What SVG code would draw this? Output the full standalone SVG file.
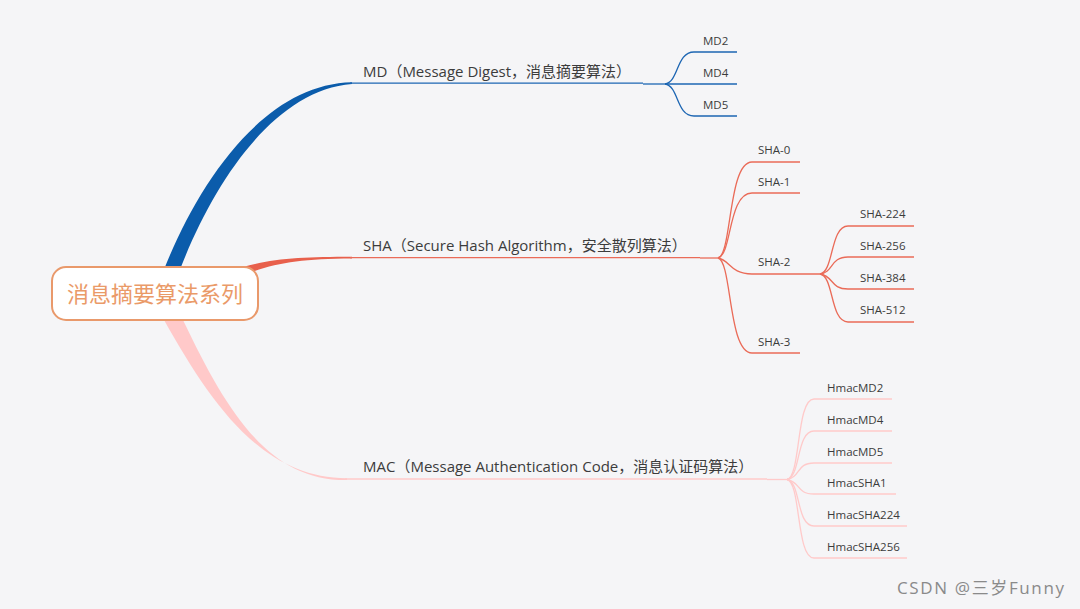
<svg xmlns="http://www.w3.org/2000/svg" width="1080" height="609" viewBox="0 0 1080 609">
<style>
text{font-family:"Open Sans","Noto Sans CJK SC",sans-serif;fill:#3c3c3c}
.main{font-size:15px}
.leaf{font-size:11.5px}
.md{stroke:#1d66b3;fill:none;stroke-width:1.3}
.sha{stroke:#ea6b58;fill:none;stroke-width:1.3}
.mac{stroke:#ffcaca;fill:none;stroke-width:1.3}
</style>
<rect width="1080" height="609" fill="#f5f5f7"/>
<g id="connectors">
  <path d="M165,267 C200,180 265,84 352,82.3 L352,84 C275,90 215,180 181,267 Z" fill="#0b5cab"/>
  <path d="M243,267 C275,258 305,257 352,256.8 L352,258.6 C305,259 280,262 252,272 Z" fill="#e8604c"/>
  <path d="M164,320 C212,405 262,478 347,478.2 L347,480 C268,481 226,410 183,320 Z" fill="#ffc9c9"/>
  <path class="md" d="M350,83.2 H643" stroke-width="1.8"/>
  <path class="md" d="M643,84 H665"/>
  <path class="md" d="M665,84 C679,82 676,52 694,52 H737"/>
  <path class="md" d="M665,84 H737"/>
  <path class="md" d="M665,84 C679,86 676,116 694,116 H737"/>
  <path class="sha" d="M350,257.7 H700" stroke-width="1.8"/>
  <path class="sha" d="M700,258 H718"/>
  <path class="sha" d="M718,258 C732,255 728,162 752,162 H800"/>
  <path class="sha" d="M718,258 C732,255 728,193 752,193 H800"/>
  <path class="sha" d="M718,258 C730,260 730,274 752,274 H820"/>
  <path class="sha" d="M718,258 C732,261 728,353 752,353 H800"/>
  <path class="sha" d="M820,274 C834,272 830,226 848,226 H914"/>
  <path class="sha" d="M820,274 C834,272 830,257 848,257 H914"/>
  <path class="sha" d="M820,274 C834,276 830,289 848,289 H914"/>
  <path class="sha" d="M820,274 C834,276 830,322 848,322 H914"/>
  <path class="mac" d="M345,479 H767" stroke-width="1.8"/>
  <path class="mac" d="M767,479.5 H787"/>
  <path class="mac" d="M787,479.5 C801,477 796,399 814,399 H892"/>
  <path class="mac" d="M787,479.5 C801,477 796,431 814,431 H892"/>
  <path class="mac" d="M787,479.5 C801,477 796,463 814,463 H892"/>
  <path class="mac" d="M787,479.5 C801,482 796,494 814,494 H896"/>
  <path class="mac" d="M787,479.5 C801,482 796,526 814,526 H907"/>
  <path class="mac" d="M787,479.5 C801,482 796,558 814,558 H907"/>
</g>
<g id="root">
  <rect x="52" y="267" width="206" height="53" rx="14" fill="#ffffff" stroke="#e9996b" stroke-width="2"/>
  <text x="155" y="302" text-anchor="middle" style="font-size:22px;fill:#ea9a68;font-family:'Noto Sans CJK SC',sans-serif">消息摘要算法系列</text>
</g>
<g id="md"><text class="main" x="363" y="77">MD（Message Digest，消息摘要算法）</text></g>
<g id="md2"><text class="leaf" x="703" y="45">MD2</text></g>
<g id="md4"><text class="leaf" x="703" y="77">MD4</text></g>
<g id="md5"><text class="leaf" x="703" y="109">MD5</text></g>
<g id="sha"><text class="main" x="363" y="251">SHA（Secure Hash Algorithm，安全散列算法）</text></g>
<g id="sha0"><text class="leaf" x="758" y="154">SHA-0</text></g>
<g id="sha1"><text class="leaf" x="758" y="186">SHA-1</text></g>
<g id="sha2"><text class="leaf" x="758" y="266">SHA-2</text></g>
<g id="sha3"><text class="leaf" x="758" y="346">SHA-3</text></g>
<g id="sha224"><text class="leaf" x="860" y="218">SHA-224</text></g>
<g id="sha256"><text class="leaf" x="860" y="250">SHA-256</text></g>
<g id="sha384"><text class="leaf" x="860" y="282">SHA-384</text></g>
<g id="sha512"><text class="leaf" x="860" y="314">SHA-512</text></g>
<g id="mac"><text class="main" x="363" y="472">MAC（Message Authentication Code，消息认证码算法）</text></g>
<g id="hmacmd2"><text class="leaf" x="827" y="392">HmacMD2</text></g>
<g id="hmacmd4"><text class="leaf" x="827" y="424">HmacMD4</text></g>
<g id="hmacmd5"><text class="leaf" x="827" y="456">HmacMD5</text></g>
<g id="hmacsha1"><text class="leaf" x="827" y="487">HmacSHA1</text></g>
<g id="hmacsha224"><text class="leaf" x="827" y="519">HmacSHA224</text></g>
<g id="hmacsha256"><text class="leaf" x="827" y="551">HmacSHA256</text></g>
<text x="897" y="594" textLength="167" lengthAdjust="spacing" style="font-size:17px;fill:#8a8a8a">CSDN @三岁Funny</text>
</svg>
